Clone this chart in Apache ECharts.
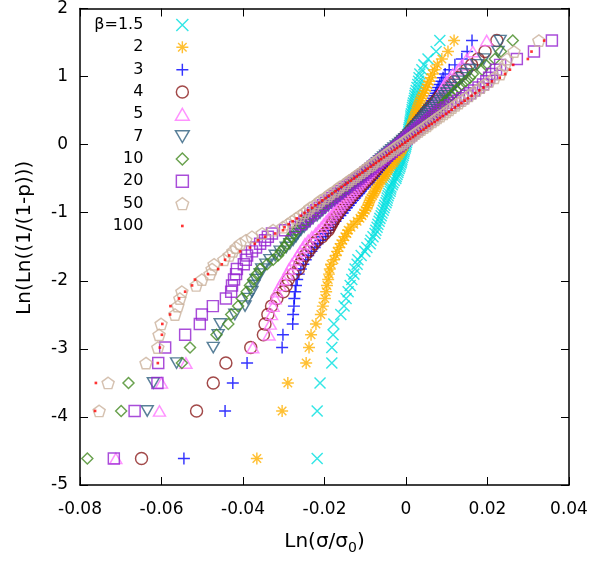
<!DOCTYPE html>
<html><head><meta charset="utf-8">
<script src="https://cdn.jsdelivr.net/npm/echarts@6/dist/echarts.min.js"></script>
<style>html,body{margin:0;padding:0;background:#fff}#c{width:612px;height:562px}</style>
</head><body><div id="c"></div>
<script>
// Plotting positions Ln(Ln(1/(1-p))) shared by every series (100 ranked points each)
const yLevels = [-4.610,-3.912,-3.501,-3.209,-2.981,-2.793,-2.634,-2.495,-2.372,-2.261,
-2.160,-2.068,-1.982,-1.902,-1.828,-1.758,-1.691,-1.628,-1.568,-1.511,
-1.456,-1.404,-1.353,-1.305,-1.257,-1.212,-1.168,-1.125,-1.083,-1.043,
-1.003,-0.965,-0.927,-0.891,-0.855,-0.819,-0.785,-0.751,-0.718,-0.685,
-0.653,-0.621,-0.589,-0.559,-0.528,-0.498,-0.468,-0.439,-0.410,-0.381,
-0.352,-0.324,-0.296,-0.268,-0.240,-0.213,-0.185,-0.158,-0.131,-0.104,
-0.077,-0.050,-0.023,0.004,0.031,0.058,0.085,0.112,0.139,0.167,
0.194,0.221,0.249,0.277,0.305,0.334,0.363,0.392,0.421,0.452,
0.482,0.513,0.545,0.578,0.611,0.646,0.681,0.718,0.756,0.796,
0.838,0.883,0.930,0.982,1.038,1.101,1.172,1.258,1.367,1.529];

const seriesNames = ['β=1.5','2','3','4','5','7','10','20','50','100'];

const xBeta1_5 = [-0.0218,-0.0218,-0.0211,-0.0182,-0.0182,-0.0179,-0.0177,-0.0160,-0.0152,-0.0147,
-0.0142,-0.0137,-0.0133,-0.0128,-0.0125,-0.0120,-0.0118,-0.0110,-0.0101,-0.0096,
-0.0088,-0.0086,-0.0081,-0.0076,-0.0074,-0.0071,-0.0069,-0.0066,-0.0064,-0.0061,
-0.0059,-0.0056,-0.0054,-0.0052,-0.0049,-0.0047,-0.0046,-0.0044,-0.0042,-0.0039,
-0.0038,-0.0037,-0.0034,-0.0032,-0.0029,-0.0025,-0.0024,-0.0022,-0.0020,-0.0019,
-0.0017,-0.0015,-0.0014,-0.0012,-0.0011,-0.0010,-0.0009,-0.0007,-0.0006,-0.0005,
-0.0004,-0.0002,-0.0001,0.0000,0.0001,0.0002,0.0003,0.0004,0.0005,0.0006,
0.0007,0.0007,0.0008,0.0009,0.0010,0.0010,0.0011,0.0012,0.0012,0.0013,
0.0015,0.0015,0.0016,0.0017,0.0018,0.0020,0.0021,0.0022,0.0023,0.0025,
0.0027,0.0029,0.0031,0.0032,0.0034,0.0039,0.0044,0.0054,0.0074,0.0083];

const xBeta2 = [-0.0366,-0.0304,-0.0290,-0.0245,-0.0238,-0.0233,-0.0221,-0.0209,-0.0204,-0.0199,
-0.0196,-0.0194,-0.0191,-0.0189,-0.0187,-0.0184,-0.0177,-0.0172,-0.0169,-0.0164,
-0.0160,-0.0155,-0.0150,-0.0145,-0.0142,-0.0135,-0.0128,-0.0120,-0.0113,-0.0108,
-0.0104,-0.0100,-0.0096,-0.0093,-0.0091,-0.0089,-0.0086,-0.0082,-0.0079,-0.0076,
-0.0073,-0.0071,-0.0069,-0.0065,-0.0061,-0.0057,-0.0054,-0.0051,-0.0048,-0.0045,
-0.0042,-0.0039,-0.0035,-0.0031,-0.0028,-0.0025,-0.0022,-0.0018,-0.0015,-0.0013,
-0.0010,-0.0008,-0.0005,-0.0003,-0.0001,0.0001,0.0003,0.0004,0.0006,0.0007,
0.0009,0.0010,0.0012,0.0013,0.0015,0.0017,0.0018,0.0020,0.0021,0.0023,
0.0025,0.0026,0.0028,0.0030,0.0032,0.0035,0.0037,0.0040,0.0043,0.0047,
0.0050,0.0053,0.0057,0.0061,0.0065,0.0070,0.0077,0.0088,0.0103,0.0118];

const xBeta3 = [-0.0545,-0.0444,-0.0425,-0.0390,-0.0304,-0.0302,-0.0278,-0.0277,-0.0275,-0.0274,
-0.0272,-0.0270,-0.0267,-0.0263,-0.0258,-0.0252,-0.0246,-0.0240,-0.0232,-0.0224,
-0.0217,-0.0210,-0.0204,-0.0197,-0.0191,-0.0185,-0.0179,-0.0173,-0.0167,-0.0161,
-0.0155,-0.0150,-0.0145,-0.0140,-0.0135,-0.0130,-0.0125,-0.0120,-0.0115,-0.0111,
-0.0106,-0.0101,-0.0097,-0.0092,-0.0088,-0.0083,-0.0079,-0.0075,-0.0071,-0.0067,
-0.0063,-0.0059,-0.0055,-0.0051,-0.0047,-0.0043,-0.0039,-0.0035,-0.0031,-0.0027,
-0.0023,-0.0019,-0.0016,-0.0012,-0.0008,-0.0004,0.0000,0.0004,0.0008,0.0012,
0.0016,0.0020,0.0024,0.0028,0.0032,0.0036,0.0039,0.0042,0.0045,0.0048,
0.0051,0.0054,0.0056,0.0059,0.0062,0.0064,0.0067,0.0070,0.0073,0.0076,
0.0079,0.0083,0.0087,0.0091,0.0096,0.0106,0.0120,0.0137,0.0150,0.0162];

const xBeta4 = [-0.0649,-0.0514,-0.0473,-0.0442,-0.0381,-0.0350,-0.0346,-0.0339,-0.0330,-0.0317,
-0.0301,-0.0294,-0.0289,-0.0277,-0.0264,-0.0260,-0.0255,-0.0248,-0.0240,-0.0233,
-0.0226,-0.0218,-0.0206,-0.0199,-0.0191,-0.0187,-0.0183,-0.0179,-0.0175,-0.0171,
-0.0167,-0.0162,-0.0157,-0.0152,-0.0147,-0.0142,-0.0137,-0.0132,-0.0127,-0.0122,
-0.0117,-0.0113,-0.0108,-0.0103,-0.0098,-0.0093,-0.0089,-0.0085,-0.0081,-0.0077,
-0.0073,-0.0069,-0.0065,-0.0061,-0.0057,-0.0053,-0.0049,-0.0045,-0.0041,-0.0037,
-0.0033,-0.0029,-0.0024,-0.0020,-0.0016,-0.0012,-0.0007,-0.0003,0.0002,0.0006,
0.0010,0.0014,0.0018,0.0022,0.0026,0.0030,0.0034,0.0038,0.0042,0.0046,
0.0050,0.0054,0.0059,0.0064,0.0069,0.0074,0.0079,0.0084,0.0089,0.0094,
0.0102,0.0110,0.0119,0.0128,0.0138,0.0148,0.0161,0.0177,0.0194,0.0223];

const xBeta5 = [-0.0712,-0.0605,-0.0600,-0.0540,-0.0376,-0.0336,-0.0333,-0.0330,-0.0326,-0.0321,
-0.0317,-0.0309,-0.0301,-0.0292,-0.0287,-0.0280,-0.0272,-0.0266,-0.0260,-0.0253,
-0.0248,-0.0240,-0.0231,-0.0222,-0.0215,-0.0208,-0.0202,-0.0196,-0.0190,-0.0184,
-0.0178,-0.0173,-0.0168,-0.0163,-0.0158,-0.0153,-0.0148,-0.0143,-0.0138,-0.0133,
-0.0128,-0.0123,-0.0119,-0.0114,-0.0110,-0.0105,-0.0101,-0.0097,-0.0092,-0.0088,
-0.0084,-0.0080,-0.0075,-0.0071,-0.0067,-0.0062,-0.0058,-0.0054,-0.0049,-0.0045,
-0.0040,-0.0036,-0.0031,-0.0027,-0.0022,-0.0018,-0.0013,-0.0008,-0.0004,0.0001,
0.0006,0.0010,0.0015,0.0020,0.0024,0.0029,0.0034,0.0038,0.0043,0.0047,
0.0052,0.0057,0.0061,0.0066,0.0070,0.0074,0.0077,0.0080,0.0084,0.0087,
0.0091,0.0095,0.0099,0.0108,0.0115,0.0128,0.0137,0.0149,0.0164,0.0198];

const xBeta7 = [-0.0835,-0.0635,-0.0620,-0.0563,-0.0473,-0.0461,-0.0456,-0.0420,-0.0395,-0.0388,
-0.0378,-0.0373,-0.0368,-0.0358,-0.0354,-0.0344,-0.0334,-0.0321,-0.0309,-0.0294,
-0.0285,-0.0277,-0.0270,-0.0265,-0.0258,-0.0250,-0.0243,-0.0236,-0.0228,-0.0218,
-0.0211,-0.0204,-0.0197,-0.0190,-0.0183,-0.0176,-0.0169,-0.0162,-0.0155,-0.0149,
-0.0142,-0.0136,-0.0130,-0.0124,-0.0117,-0.0110,-0.0105,-0.0100,-0.0095,-0.0090,
-0.0085,-0.0080,-0.0075,-0.0070,-0.0065,-0.0060,-0.0055,-0.0050,-0.0045,-0.0040,
-0.0035,-0.0030,-0.0024,-0.0018,-0.0013,-0.0008,-0.0003,0.0002,0.0007,0.0012,
0.0016,0.0020,0.0024,0.0028,0.0032,0.0036,0.0040,0.0044,0.0048,0.0052,
0.0056,0.0059,0.0065,0.0071,0.0077,0.0083,0.0089,0.0095,0.0100,0.0106,
0.0113,0.0120,0.0128,0.0137,0.0147,0.0157,0.0174,0.0191,0.0226,0.0231];

const xBeta10 = [-0.0782,-0.0699,-0.0681,-0.0550,-0.0530,-0.0465,-0.0436,-0.0429,-0.0412,-0.0403,
-0.0391,-0.0383,-0.0375,-0.0366,-0.0358,-0.0341,-0.0326,-0.0314,-0.0307,-0.0299,
-0.0292,-0.0287,-0.0282,-0.0277,-0.0270,-0.0263,-0.0255,-0.0248,-0.0240,-0.0233,
-0.0226,-0.0219,-0.0212,-0.0205,-0.0197,-0.0190,-0.0183,-0.0176,-0.0168,-0.0161,
-0.0154,-0.0147,-0.0140,-0.0133,-0.0125,-0.0118,-0.0112,-0.0106,-0.0100,-0.0094,
-0.0088,-0.0082,-0.0076,-0.0070,-0.0064,-0.0058,-0.0052,-0.0046,-0.0040,-0.0034,
-0.0028,-0.0022,-0.0017,-0.0012,-0.0007,-0.0002,0.0003,0.0008,0.0013,0.0018,
0.0023,0.0028,0.0033,0.0038,0.0043,0.0048,0.0053,0.0058,0.0063,0.0068,
0.0073,0.0078,0.0083,0.0088,0.0093,0.0099,0.0105,0.0111,0.0117,0.0123,
0.0130,0.0137,0.0147,0.0157,0.0164,0.0187,0.0196,0.0218,0.0233,0.0262];

const xBeta20 = [-0.0717,-0.0666,-0.0610,-0.0608,-0.0591,-0.0542,-0.0506,-0.0501,-0.0474,-0.0442,
-0.0429,-0.0427,-0.0422,-0.0417,-0.0415,-0.0398,-0.0393,-0.0390,-0.0378,-0.0368,
-0.0358,-0.0346,-0.0339,-0.0329,-0.0297,-0.0272,-0.0258,-0.0249,-0.0242,-0.0235,
-0.0228,-0.0220,-0.0212,-0.0204,-0.0196,-0.0188,-0.0181,-0.0174,-0.0167,-0.0160,
-0.0152,-0.0145,-0.0138,-0.0131,-0.0124,-0.0117,-0.0111,-0.0105,-0.0099,-0.0093,
-0.0087,-0.0081,-0.0075,-0.0069,-0.0063,-0.0057,-0.0051,-0.0046,-0.0040,-0.0035,
-0.0029,-0.0024,-0.0018,-0.0013,-0.0008,-0.0003,0.0002,0.0007,0.0012,0.0017,
0.0022,0.0028,0.0034,0.0040,0.0046,0.0052,0.0058,0.0064,0.0070,0.0076,
0.0082,0.0088,0.0098,0.0108,0.0118,0.0128,0.0138,0.0148,0.0157,0.0167,
0.0178,0.0189,0.0197,0.0204,0.0211,0.0221,0.0231,0.0272,0.0314,0.0358];

const xBeta50 = [-0.0842,-0.0753,-0.0731,-0.0638,-0.0609,-0.0606,-0.0601,-0.0567,-0.0560,-0.0555,
-0.0550,-0.0515,-0.0501,-0.0481,-0.0476,-0.0471,-0.0447,-0.0434,-0.0425,-0.0417,
-0.0407,-0.0393,-0.0378,-0.0353,-0.0326,-0.0302,-0.0290,-0.0280,-0.0270,-0.0260,
-0.0250,-0.0242,-0.0236,-0.0225,-0.0216,-0.0210,-0.0200,-0.0192,-0.0186,-0.0176,
-0.0169,-0.0163,-0.0153,-0.0146,-0.0140,-0.0132,-0.0125,-0.0119,-0.0111,-0.0104,
-0.0099,-0.0091,-0.0084,-0.0079,-0.0071,-0.0065,-0.0059,-0.0052,-0.0046,-0.0040,
-0.0033,-0.0027,-0.0021,-0.0014,-0.0007,-0.0001,0.0005,0.0012,0.0018,0.0024,
0.0031,0.0037,0.0044,0.0051,0.0056,0.0064,0.0071,0.0077,0.0084,0.0092,
0.0099,0.0106,0.0113,0.0121,0.0129,0.0137,0.0145,0.0154,0.0163,0.0173,
0.0183,0.0193,0.0204,0.0217,0.0231,0.0236,0.0243,0.0248,0.0265,0.0326];

const xBeta100 = [-0.0845,-0.0763,-0.0761,-0.0609,-0.0604,-0.0599,-0.0598,-0.0579,-0.0578,-0.0557,
-0.0542,-0.0525,-0.0518,-0.0486,-0.0461,-0.0452,-0.0444,-0.0434,-0.0407,-0.0383,
-0.0371,-0.0363,-0.0346,-0.0321,-0.0302,-0.0298,-0.0288,-0.0278,-0.0268,-0.0258,
-0.0249,-0.0240,-0.0230,-0.0222,-0.0213,-0.0205,-0.0197,-0.0189,-0.0181,-0.0173,
-0.0165,-0.0158,-0.0150,-0.0143,-0.0135,-0.0128,-0.0121,-0.0114,-0.0107,-0.0100,
-0.0094,-0.0087,-0.0080,-0.0074,-0.0067,-0.0061,-0.0054,-0.0047,-0.0041,-0.0035,
-0.0028,-0.0022,-0.0015,-0.0009,-0.0002,0.0004,0.0010,0.0017,0.0023,0.0030,
0.0036,0.0043,0.0049,0.0056,0.0063,0.0070,0.0077,0.0083,0.0090,0.0098,
0.0105,0.0112,0.0120,0.0128,0.0136,0.0144,0.0152,0.0161,0.0170,0.0180,
0.0190,0.0200,0.0211,0.0230,0.0243,0.0255,0.0263,0.0299,0.0308,0.0339];

const xSeries = [xBeta1_5, xBeta2, xBeta3, xBeta4, xBeta5, xBeta7, xBeta10, xBeta20, xBeta50, xBeta100];
const colors = ['#00e0e0','#ffb000','#0000ff','#8b1c1c','#ff77ff','#306080','#448a22','#9420d0','#cbb29c','#ff0000'];

// marker shapes (gnuplot-like point types)
const symbols = [
  'path://M0,0L10,10M10,0L0,10',
  'path://M5,0L5,10M0,5L10,5M1.46,1.46L8.54,8.54M1.46,8.54L8.54,1.46',
  'path://M5,0L5,10M0,5L10,5',
  'path://M0,5A5,5,0,1,0,10,5A5,5,0,1,0,0,5Z',
  'path://M5,0L10,8.66L0,8.66Z',
  'path://M0,0L10,0L5,8.66Z',
  'path://M5,0L10,5L5,10L0,5Z',
  'path://M0,0L10,0L10,10L0,10Z',
  'path://M0,-1L0.951,-0.309L0.588,0.809L-0.588,0.809L-0.951,-0.309Z',
  'path://M0,0M10,10M3.9,3.9L6.1,3.9L6.1,6.1L3.9,6.1Z'
];
const symbolSizes = [11, 12, 12, 12, [12,10.4], [12,10.4], 11, 11, [12,11.4], 12];

const xTickMin = -0.08, xTickMax = 0.04, xTickStep = 0.02;
const yTickMin = -5, yTickMax = 2, yTickStep = 1;

const FONT = 'DejaVu Sans';
const chart = echarts.init(document.getElementById('c'), null, {renderer: 'canvas'});

const series = xSeries.map((xs, k) => ({
  name: seriesNames[k],
  type: 'scatter',
  data: xs.map((x, i) => [x, yLevels[i]]),
  symbol: symbols[k],
  symbolSize: symbolSizes[k],
  clip: true,
  itemStyle: k === 9
    ? {color: colors[k], borderWidth: 0}
    : {color: 'rgba(0,0,0,0)', borderColor: colors[k], borderWidth: 1.45},
  emphasis: {disabled: true}
}));

const xFmt = v => Math.abs(v) < 1e-9 ? '0' : v.toFixed(2);
const axisCommon = {
  axisLine: {show: true, onZero: false, lineStyle: {color: '#000', width: 1.5}},
  axisTick: {show: true, inside: true, length: 8, lineStyle: {color: '#000', width: 1}},
  splitLine: {show: false}
};

chart.setOption({
  animation: false,
  backgroundColor: '#fff',
  grid: {left: 80, right: 43, top: 5.5, bottom: 77, containLabel: false},
  legend: {
    orient: 'vertical', align: 'right', right: 422, top: 14, padding: 0,
    itemWidth: 68, itemHeight: 12, itemGap: 0.33, symbolKeepAspect: true,
    selectedMode: false,
    textStyle: {fontFamily: FONT, fontSize: 16, color: '#000', lineHeight: 22},
    itemStyle: {borderWidth: 1.45},
    data: seriesNames.map((n, k) => k === 9 ? {name: n, itemStyle: {borderWidth: 0}} : {name: n})
  },
  xAxis: [
    Object.assign({}, axisCommon, {
      type: 'value', position: 'bottom', min: xTickMin, max: xTickMax, interval: xTickStep,
      axisLabel: {formatter: xFmt, fontFamily: FONT, fontSize: 17, color: '#000', margin: 16},
      name: 'Ln(σ/σ{s|0})', nameLocation: 'middle', nameGap: 44,
      nameTextStyle: {fontFamily: FONT, fontSize: 20, color: '#000',
        rich: {s: {fontFamily: FONT, fontSize: 14, color: '#000', padding: [12, 0, 0, 0]}}}
    }),
    Object.assign({}, axisCommon, {
      type: 'value', position: 'top', min: xTickMin, max: xTickMax, interval: xTickStep,
      axisLabel: {show: false}
    })
  ],
  yAxis: [
    Object.assign({}, axisCommon, {
      type: 'value', position: 'left', min: yTickMin, max: yTickMax, interval: yTickStep,
      axisLabel: {fontFamily: FONT, fontSize: 17, color: '#000', margin: 12},
      name: 'Ln(Ln((1/(1-p)))', nameLocation: 'middle', nameGap: 45,
      nameTextStyle: {fontFamily: FONT, fontSize: 20, color: '#000', padding: [0, 0, 0, 18]}
    }),
    Object.assign({}, axisCommon, {
      type: 'value', position: 'right', min: yTickMin, max: yTickMax, interval: yTickStep,
      axisLabel: {show: false}
    })
  ],
  series: series
});
</script>
</body></html>
